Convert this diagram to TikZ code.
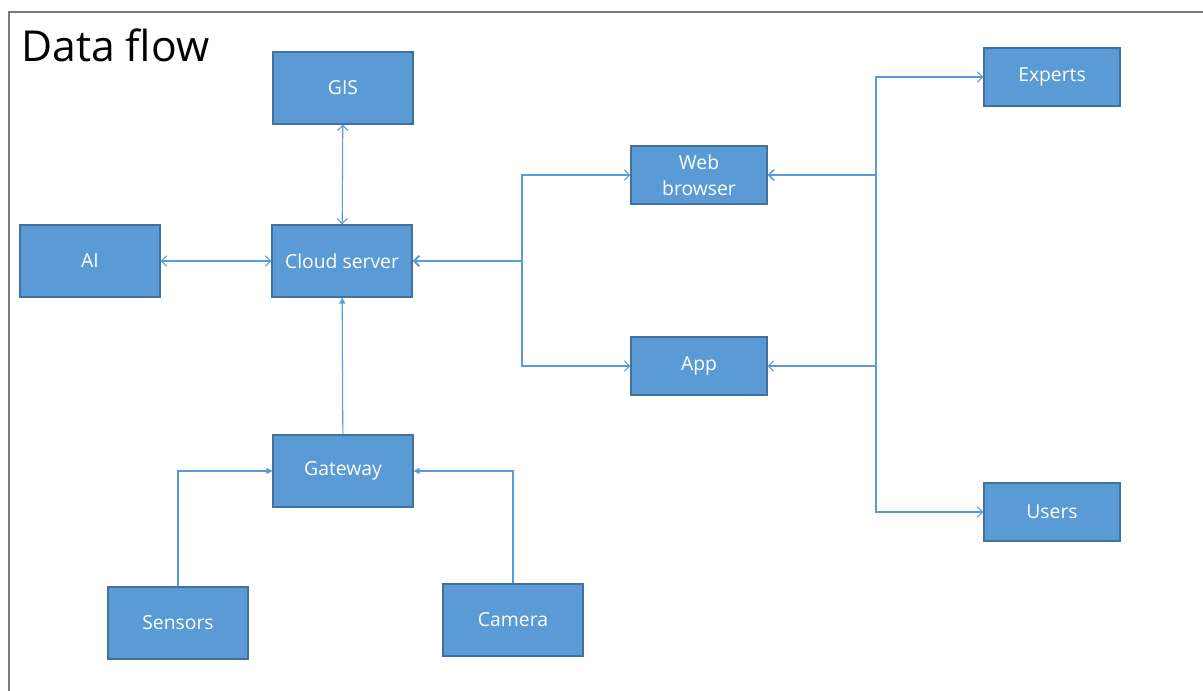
\documentclass[tikz,border=0pt]{standalone}
\usepackage{fontspec}
\setmainfont{Open Sans}
\usepackage{tikz}
\usetikzlibrary{arrows.meta,positioning}
\definecolor{boxc}{HTML}{5B9BD5}
\definecolor{edgec}{HTML}{41719C}
\definecolor{framec}{HTML}{7A7A7A}
\tikzset{
  ar/.style={-{Straight Barb[length=4pt,width=8pt]},line width=0.8pt,boxc},
  arr/.style={{Straight Barb[length=4pt,width=8pt]}-{Straight Barb[length=4pt,width=8pt]},line width=0.8pt,boxc},
  arf/.style={-{Triangle[length=4.5pt,width=4.5pt]},line width=0.8pt,boxc},
  box/.style={draw=edgec,line width=0.8pt,fill=boxc,text=white,align=center,inner sep=0pt,
    minimum width=105pt,minimum height=54pt,font=\fontsize{14.5}{19.5}\selectfont},
  sbox/.style={box,minimum width=102pt,minimum height=43.5pt}
}
\begin{document}
\begin{tikzpicture}[x=0.75pt,y=-0.75pt]
\useasboundingbox (0,0) rectangle (1203,690);
\draw[framec,line width=1.5pt] (1215,12) -- (9,12) -- (9,700);
\node[anchor=base west,inner sep=0pt,font=\fontsize{32}{38}\selectfont] (title) at (21,61) {Data flow};
% left part
\node[box] (gis) at (343,88) {GIS};
\node[box] (ai) at (90,261) {AI};
\node[box] (cloud) at (342,261) {Cloud server};
\node[box] (gate) at (343,471) {Gateway};
\node[box] (sens) at (178,623) {Sensors};
\node[box] (cam) at (513,620) {Camera};
% right part
\node[sbox] (web) at (699,175) {Web\\browser};
\node[sbox] (app) at (699,366) {App};
\node[sbox] (exp) at (1052,77) {Experts};
\node[sbox] (users) at (1052,512) {Users};
\coordinate (split) at (522,261);
\coordinate (hub) at (876,300);
\draw[arr] (gis) -- (cloud);
\draw[arr] (ai) -- (cloud);
\draw[arf] (gate) -- (cloud);
\draw[arf] (sens.north) |- (gate.west);
\draw[arf] (cam.north) |- (gate.east);
\draw[ar,line width=1.5pt] (split) -- (cloud.east);
\draw[ar] (split) |- (web.west);
\draw[ar] (split) |- (app.west);
\draw[ar] (hub) |- (exp.west);
\draw[ar] (hub) |- (users.west);
\draw[ar,line width=1.3pt] (hub |- web) -- (web.east);
\draw[ar] (hub |- app) -- (app.east);
\end{tikzpicture}
\end{document}
